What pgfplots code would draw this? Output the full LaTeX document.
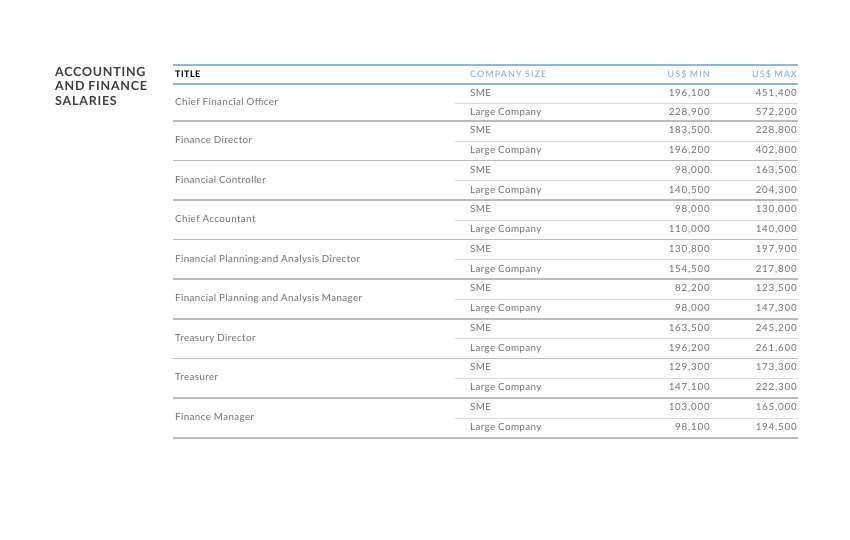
\documentclass[border=0pt]{standalone}
\usepackage{pgfplots}
\pgfplotsset{compat=1.18}
\usepackage{pgfplotstable}
\usepackage{fontspec}
\setmainfont{Lato}
\newfontfamily\bodyfont[LetterSpace=4]{Lato}
\newfontfamily\numfont[LetterSpace=8]{Lato}
\newfontfamily\headfont[LetterSpace=12]{Lato}
\newfontfamily\titlefont[LetterSpace=5]{Lato}
\newfontfamily\sectfont[LetterSpace=6]{Lato}

\definecolor{rowtext}{RGB}{112,112,112}
\definecolor{headblue}{RGB}{122,170,212}
\definecolor{lineblue}{RGB}{140,184,224}
\definecolor{grpgray}{RGB}{188,188,188}
\definecolor{innergray}{RGB}{218,218,218}
\definecolor{sectgray}{RGB}{62,62,62}

% row y positions (px from top), company size, min and max salary
\pgfplotstableread[col sep=comma]{
y,size,min,max
93.5,SME,196100,451400
112.5,Large Company,228900,572200
131,SME,183500,228800
151,Large Company,196200,402800
170.5,SME,98000,163500
190.5,Large Company,140500,204300
210,SME,98000,130000
230,Large Company,110000,140000
249.5,SME,130800,197900
269.5,Large Company,154500,217800
289,SME,82200,123500
309,Large Company,98000,147300
328.5,SME,163500,245200
348.5,Large Company,196200,261600
368,SME,129300,173300
388,Large Company,147100,222300
408,SME,103000,165000
428,Large Company,98100,194500
}\rows

\pgfplotstableread[col sep=comma]{
y,title
103,Chief Financial Officer
141,Finance Director
180.5,Financial Controller
220,Chief Accountant
259.5,Financial Planning and Analysis Director
299,Financial Planning and Analysis Manager
338.5,Treasury Director
378,Treasurer
418,Finance Manager
}\titles

\begin{document}
\begin{tikzpicture}
\begin{axis}[
    width=850pt, height=539pt, scale only axis,
    xmin=0, xmax=850, ymin=0, ymax=539,
    y dir=reverse, hide axis, clip=false,
    every node near coord/.append style={font=\bodyfont\fontsize{9.8}{11}\selectfont, text=rowtext,
        inner sep=0pt, text height=0.72em, text depth=0.2em},
    /pgf/number format/.cd, fixed, precision=0, 1000 sep={,}, assume math mode=true,
]
% page frame
\addplot[draw=none, mark=none] coordinates {(0,0) (850,539)};

% rules
\addplot[lineblue, line width=1.3pt, mark=none] coordinates {(173,65) (798,65)};
\addplot[lineblue, line width=1.3pt, mark=none] coordinates {(173,84) (798,84)};
\pgfplotsinvokeforeach{121,160.5,200,239.5,279,319,358.5,398,438}{
  \addplot[grpgray, line width=1.1pt, mark=none] coordinates {(173,#1) (798,#1)};
}
\pgfplotsinvokeforeach{103,141,180.5,220,259.5,299,338.5,378,418}{
  \addplot[innergray, line width=0.8pt, mark=none] coordinates {(455,#1) (798,#1)};
}

% table body
\addplot[draw=none, mark=none, nodes near coords, point meta=explicit symbolic,
    nodes near coords style={anchor=west}] table[x expr=175, y=y, meta=title] {\titles};
\addplot[draw=none, mark=none, nodes near coords, point meta=explicit symbolic,
    nodes near coords style={anchor=west}] table[x expr=470, y=y, meta=size] {\rows};
\addplot[draw=none, mark=none, nodes near coords, point meta=explicit,
    nodes near coords style={anchor=east, font=\numfont\fontsize{9.8}{11}\selectfont}]
    table[x expr=710, y=y, meta=min] {\rows};
\addplot[draw=none, mark=none, nodes near coords, point meta=explicit,
    nodes near coords style={anchor=east, font=\numfont\fontsize{9.8}{11}\selectfont}]
    table[x expr=797, y=y, meta=max] {\rows};

% headers
\node[anchor=west, inner sep=0pt, font=\titlefont\bfseries\fontsize{9}{10}\selectfont, text=black]
  at (axis cs:175,74.5) {TITLE};
\node[anchor=west, inner sep=0pt, font=\headfont\fontsize{9}{10}\selectfont, text=headblue]
  at (axis cs:470,74.5) {COMPANY SIZE};
\node[anchor=east, inner sep=0pt, font=\headfont\fontsize{9}{10}\selectfont, text=headblue]
  at (axis cs:710,74.5) {US\$ MIN};
\node[anchor=east, inner sep=0pt, font=\headfont\fontsize{9}{10}\selectfont, text=headblue]
  at (axis cs:797,74.5) {US\$ MAX};

% section title
\node[anchor=north west, inner sep=0pt, align=left, text=sectgray,
  font=\sectfont\bfseries\fontsize{12.5}{14.5}\selectfont] at (axis cs:55,67)
  {ACCOUNTING\\AND FINANCE\\SALARIES};
\end{axis}
\end{tikzpicture}
\end{document}
